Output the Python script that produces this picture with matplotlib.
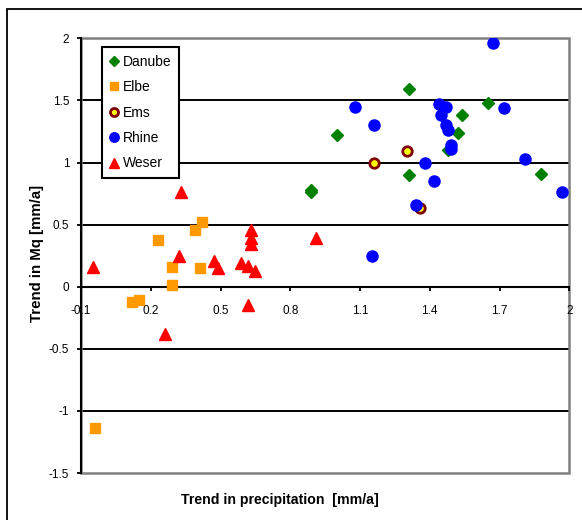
import matplotlib
matplotlib.use("Agg")
import matplotlib.pyplot as plt
from matplotlib.patches import Rectangle

plt.rcParams['font.family'] = ['Liberation Sans', 'DejaVu Sans']

# ---- data ----
danube_x = [1.31, 1.65, 1.54, 1.00, 1.52, 1.48, 1.31, 0.89, 0.89, 1.88]
danube_y = [1.59, 1.48, 1.38, 1.22, 1.24, 1.10, 0.90, 0.76, 0.78, 0.91]

elbe_x = [0.23, 0.39, 0.42, 0.29, 0.41, 0.29, 0.12, 0.15, -0.04]
elbe_y = [0.38, 0.46, 0.52, 0.16, 0.15, 0.01, -0.12, -0.11, -1.14]

ems_x = [1.16, 1.30, 1.36]
ems_y = [1.00, 1.09, 0.63]

rhine_x = [1.67, 1.08, 1.16, 1.44, 1.47, 1.45, 1.47, 1.48, 1.49, 1.49,
           1.38, 1.42, 1.34, 1.15, 1.72, 1.81, 1.97]
rhine_y = [1.96, 1.45, 1.30, 1.47, 1.45, 1.38, 1.30, 1.26, 1.14, 1.11,
           1.00, 0.85, 0.66, 0.25, 1.44, 1.03, 0.76]

weser_x = [-0.05, 0.33, 0.32, 0.47, 0.49, 0.59, 0.62, 0.65, 0.63, 0.63,
           0.63, 0.62, 0.26, 0.91]
weser_y = [0.16, 0.76, 0.25, 0.21, 0.15, 0.19, 0.17, 0.13, 0.46, 0.39,
           0.34, -0.15, -0.38, 0.39]

x_ticks = [-0.1, 0.2, 0.5, 0.8, 1.1, 1.4, 1.7, 2.0]
x_tick_labels = ["-0.1", "0.2", "0.5", "0.8", "1.1", "1.4", "1.7", "2"]
y_ticks = [-1.5, -1.0, -0.5, 0, 0.5, 1.0, 1.5, 2.0]
y_tick_labels = ["-1.5", "-1", "-0.5", "0", "0.5", "1", "1.5", "2"]

W, H = 582, 520
fig = plt.figure(figsize=(W / 100, H / 100), dpi=100)

# outer chart border
fig.patches.append(Rectangle((7 / W, -0.1), 1.2, 1 - 9 / H + 0.1,
                             transform=fig.transFigure, fill=False,
                             edgecolor='black', linewidth=1.3, zorder=0))

ax = fig.add_axes([81 / W, 1 - 473 / H, (569.3 - 81) / W, (473 - 38.3) / H])
ax.set_xlim(-0.1, 2.0)
ax.set_ylim(-1.5, 2.0)

# gridlines
for yv in [-1.0, -0.5, 0.5, 1.0, 1.5]:
    ax.axhline(yv, color='black', linewidth=1.4, zorder=1)

# gray plot-area border
ax.add_patch(Rectangle((0, 0), 1, 1, transform=ax.transAxes, fill=False,
                       edgecolor='#808080', linewidth=1.8, zorder=1.5,
                       clip_on=False))
for s in ['top', 'right']:
    ax.spines[s].set_visible(False)
ax.spines['left'].set_color('black')
ax.spines['left'].set_linewidth(1.5)
ax.spines['bottom'].set_position(('data', 0))
ax.spines['bottom'].set_color('black')
ax.spines['bottom'].set_linewidth(1.5)
for sp in ax.spines.values():
    sp.set_zorder(2)

ax.set_xticks(x_ticks)
ax.set_xticklabels(x_tick_labels)
ax.set_yticks(y_ticks)
ax.set_yticklabels(y_tick_labels)
ax.tick_params(axis='x', direction='out', length=3, width=1.3, pad=10.5,
               labelsize=8.5, colors='black')
ax.tick_params(axis='y', direction='out', length=3, width=1.3, pad=5.5,
               labelsize=8.5, colors='black')

ax.plot(danube_x, danube_y, linestyle='none', marker='D', markersize=6.2,
        color='#008000', markeredgecolor='#008000', label='Danube', zorder=3)
ax.plot(elbe_x, elbe_y, linestyle='none', marker='s', markersize=7.5,
        color='#FF9900', markeredgecolor='#FF9900', label='Elbe', zorder=3)
ax.plot(ems_x, ems_y, linestyle='none', marker='o', markersize=6.8,
        markerfacecolor='#FFFF00', markeredgecolor='#800000',
        markeredgewidth=2.0, label='Ems', zorder=3)
ax.plot(rhine_x, rhine_y, linestyle='none', marker='o', markersize=8,
        color='#0000FF', markeredgecolor='#0000FF', label='Rhine', zorder=3)
ax.plot(weser_x, weser_y, linestyle='none', marker='^', markersize=8,
        color='#FF0000', markeredgecolor='#FF0000', label='Weser', zorder=3)

leg = ax.legend(loc='upper left',
                bbox_to_anchor=(101.7 / W, 1 - 47.3 / H),
                bbox_transform=fig.transFigure, borderaxespad=0,
                fontsize=10, frameon=True, fancybox=False, shadow=False,
                edgecolor='black', framealpha=1, markerscale=0.85,
                handlelength=0.6, handletextpad=0.35, labelspacing=0.82,
                borderpad=0.55)
leg.get_frame().set_linewidth(1.5)
leg.set_zorder(5)

fig.text(37 / W, 1 - 253 / H, 'Trend in Mq [mm/a]', rotation=90,
         ha='center', va='center', fontsize=10.8, fontweight='bold')
fig.text(280 / W, 1 - 500 / H, 'Trend in precipitation  [mm/a]',
         ha='center', va='center', fontsize=10.2, fontweight='bold')

fig.savefig('out.png', dpi=100)
